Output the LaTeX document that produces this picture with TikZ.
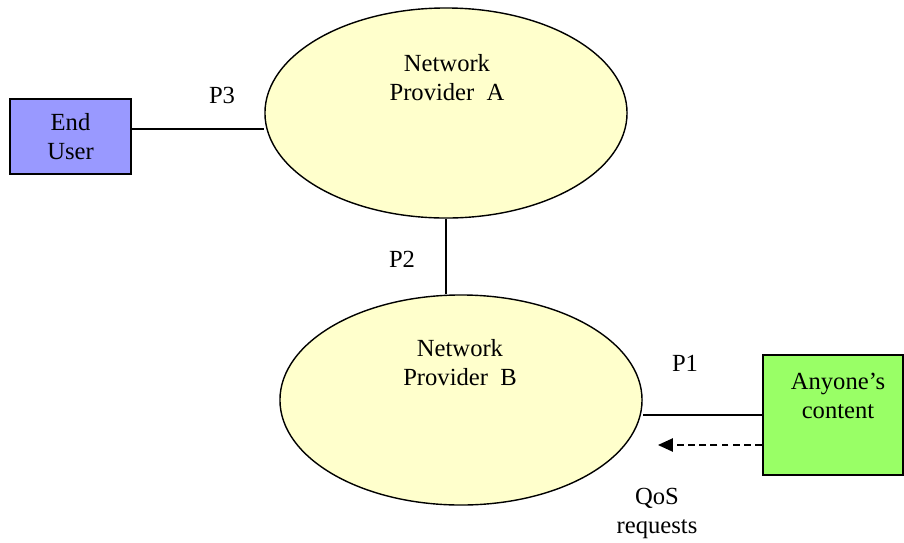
\documentclass[tikz,border=0pt]{standalone}
\usepackage{fontspec}
\setmainfont{Liberation Serif}
\usepackage{tikz}
\usetikzlibrary{shapes.geometric}
\usetikzlibrary{arrows.meta}
\usetikzlibrary{positioning}

\definecolor{userblue}{HTML}{9999FF}
\definecolor{contentgreen}{HTML}{99FF66}
\definecolor{provyellow}{HTML}{FFFFCC}

\tikzset{
  provider/.style={draw, ellipse, fill=provyellow, line width=1pt, minimum width=9.05cm, minimum height=5.25cm},
  party/.style={draw, rectangle, line width=1.3pt},
  txt/.style={align=center, inner sep=0pt},
  link/.style={line width=1pt}
}

\begin{document}
\begin{tikzpicture}[x=0.025cm, y=-0.025cm, font=\fontsize{17.5}{20.6}\selectfont]
\useasboundingbox (0,0) rectangle (904,542);

\node[provider] (ProvA) at (446,113) {};
\node[txt] (ProvAText) at (447,78) {Network\\Provider\ \ A};

\node[provider] (ProvB) at (461,400) {};
\node[txt] (ProvBText) at (460,363) {Network\\Provider\ \ B};

\node[party, fill=userblue, minimum width=3.025cm, minimum height=1.875cm, align=center] (EndUser) at (70.5,136.5) {End\\User};

\node[party, fill=contentgreen, minimum width=3.5cm, minimum height=3cm] (Content) at (833,415) {};
\node[txt] (ContentText) at (838,396) {Anyone's\\content};

% links between the parties
\coordinate (UserLink) at ([yshift=0.19cm]EndUser.east);
\draw[link] (UserLink) -- (UserLink -| ProvA.west);
\draw[link] (ProvA.south) -- (ProvA.south |- ProvB.north);
\draw[link] (Content.west) -- (Content.west -| ProvB.east);

\coordinate (QosTip) at (658,445);
\draw[link, dash pattern=on 0.17cm off 0.11cm, -{Triangle[length=0.37cm, width=0.33cm]}] (Content.west |- QosTip) -- (QosTip);

\node (PThree) at (222,95) {P3};
\node (PTwo) at (402,259) {P2};
\node (POne) at (685,363) {P1};
\node[txt] (QosText) at (657,513) {QoS\\requests};
\end{tikzpicture}
\end{document}
